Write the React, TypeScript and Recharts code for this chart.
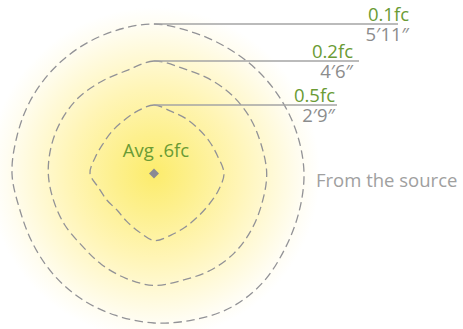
import React from "react";
import {
  RadarChart,
  Radar,
  PolarAngleAxis,
  PolarRadiusAxis,
  Customized,
} from "recharts";

// bearing of each sample, clockwise from straight up
const angles = [
  "0", "15", "30", "45", "60", "75", "90", "105", "120", "135", "150", "165",
  "180", "195", "210", "225", "240", "255", "270", "285", "300", "315", "330", "345",
];

// isoline distance from the source at each bearing
const outer = [
  149.5, 146.5, 145.5, 146, 147, 148.5, 150, 150, 151, 154, 154.5, 151.5,
  149.5, 147, 145, 142.5, 140, 139, 142, 142, 143.5, 145, 146.5, 148,
];
const middle = [
  112.5, 109, 109.5, 110.5, 111, 111, 112.7, 112, 112.5, 113, 112, 110.5,
  112, 108.5, 105, 102, 103, 104, 105.7, 106.3, 106.8, 107, 106, 106.5,
];
const inner = [
  68.5, 64.5, 63.5, 63, 64, 66, 70, 66.5, 63, 61.5, 62, 64,
  67, 60, 55, 52, 54, 57, 64, 61, 59, 59.5, 61, 64.5,
];

const levels = ["0.1fc", "0.2fc", "0.5fc"];
const distances = ["5′11″", "4′6″", "2′9″"];
const average = "Avg .6fc";
const sourceNote = "From the source";

const data = angles.map((a, i) => ({
  angle: a,
  outer: outer[i],
  middle: middle[i],
  inner: inner[i],
}));

const CX = 154;
const CY = 173.5;
const GREEN = "#6a9b35";
const GREY = "#8c8c8c";
const LINE = "#929296";
const FONT = "'Open Sans', sans-serif";

// where each leader line stops and where its text is right-aligned
const leaderEnd = [398, 359, 337];
const textRight = [409, 353, 335];

// closed catmull-rom curve through the radar points
const SmoothShape = (props: any) => {
  const pts = props.points || [];
  const n = pts.length;
  if (!n) return null;
  let d = `M${pts[0].x},${pts[0].y}`;
  for (let i = 0; i < n; i++) {
    const p0 = pts[(i - 1 + n) % n];
    const p1 = pts[i];
    const p2 = pts[(i + 1) % n];
    const p3 = pts[(i + 2) % n];
    const c1x = p1.x + (p2.x - p0.x) / 6;
    const c1y = p1.y + (p2.y - p0.y) / 6;
    const c2x = p2.x - (p3.x - p1.x) / 6;
    const c2y = p2.y - (p3.y - p1.y) / 6;
    d += ` C${c1x},${c1y} ${c2x},${c2y} ${p2.x},${p2.y}`;
  }
  return (
    <path
      d={d + "Z"}
      fill="none"
      stroke={LINE}
      strokeWidth={1.3}
      strokeDasharray="8.5 4.5"
    />
  );
};

const makeDot = (k: number) => (p: any) => {
  if (p.index !== 0) return <g key={`d${k}-${p.index}`} />;
  return (
    <g key={`d${k}-0`}>
      <line
        x1={p.cx}
        y1={p.cy}
        x2={leaderEnd[k]}
        y2={p.cy}
        stroke="#a4a4a4"
        strokeWidth={1.5}
      />
      <text textAnchor="end" fontSize={18.5} fontFamily={FONT}>
        <tspan x={textRight[k]} y={p.cy - 3} fill={GREEN}>
          {levels[k]}
        </tspan>
        <tspan x={textRight[k]} y={p.cy + 17} fill={GREY}>
          {distances[k]}
        </tspan>
      </text>
    </g>
  );
};

const Overlay = () => (
  <g>
    <polygon
      points={`${CX},${CY - 5} ${CX + 5},${CY} ${CX},${CY + 5} ${CX - 5},${CY}`}
      fill="#8a8a94"
    />
    <text
      x={CX + 2}
      y={CY - 17}
      textAnchor="middle"
      fill={GREEN}
      fontSize={18.5}
      fontFamily={FONT}
    >
      {average}
    </text>
    <text x={316} y={187} fill="#a0a0a0" fontSize={18.5} fontFamily={FONT}>
      {sourceNote}
    </text>
  </g>
);

export default function App() {
  return (
    <div
      style={{
        position: "absolute",
        left: 0,
        top: 0,
        width: 463,
        height: 329,
        background: `radial-gradient(circle at ${CX}px ${CY}px, #fcec6c 0px, #fdf08e 40px, #fff5b6 85px, #fffadc 125px, #fffdf2 148px, #ffffff 166px)`,
      }}
    >
      <RadarChart
        width={463}
        height={329}
        data={data}
        cx={CX}
        cy={CY}
        outerRadius={160}
        margin={{ top: 0, right: 0, bottom: 0, left: 0 }}
      >
        <PolarAngleAxis dataKey="angle" tick={false} axisLine={false} tickLine={false} />
        <PolarRadiusAxis domain={[0, 160]} type="number" tick={false} axisLine={false} />
        <Radar
          dataKey="outer"
          stroke={LINE}
          fill="none"
          shape={SmoothShape}
          dot={makeDot(0)}
          isAnimationActive={false}
        />
        <Radar
          dataKey="middle"
          stroke={LINE}
          fill="none"
          shape={SmoothShape}
          dot={makeDot(1)}
          isAnimationActive={false}
        />
        <Radar
          dataKey="inner"
          stroke={LINE}
          fill="none"
          shape={SmoothShape}
          dot={makeDot(2)}
          isAnimationActive={false}
        />
        <Customized component={Overlay} />
      </RadarChart>
    </div>
  );
}
